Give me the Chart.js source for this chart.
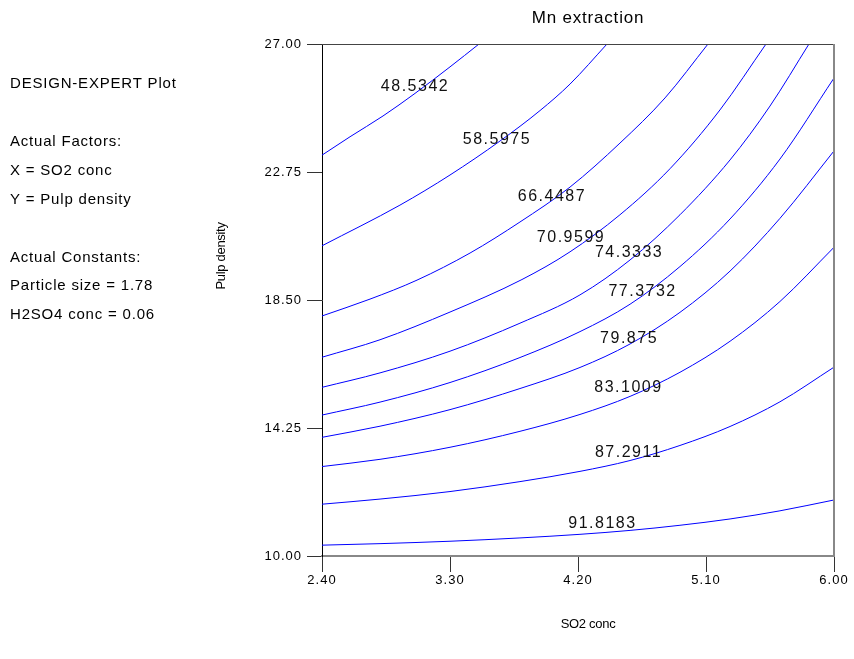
<!DOCTYPE html>
<html>
<head>
<meta charset="utf-8">
<script src="https://cdn.jsdelivr.net/npm/chart.js@4.4.1/dist/chart.umd.min.js"></script>
<style>
  html, body { margin: 0; padding: 0; background: #fff; }
  canvas { display: block; }
</style>
</head>
<body>
<canvas id="c" width="854" height="659" style="width:854px;height:659px"></canvas>
<script>
// ---- data ----
const xTicks = [2.40, 3.30, 4.20, 5.10, 6.00];
const yTicks = [10.00, 14.25, 18.50, 22.75, 27.00];
const contourLevels = ["48.5342", "58.5975", "66.4487", "70.9599", "74.3333", "77.3732", "79.875", "83.1009", "87.2911", "91.8183"];

// contour curves: [SO2 conc, Pulp density]
const c48 = [[2.400,23.31],[2.597,23.92],[2.829,24.61],[3.054,25.36],[3.300,26.24],[3.504,27.00]];
const c58 = [[2.400,20.30],[2.948,21.65],[3.300,22.65],[3.652,23.78],[3.933,24.79],[4.144,25.67],[4.404,27.00]];
const c66 = [[2.400,17.97],[2.7375,18.53],[3.068,19.16],[3.441,20.06],[3.792,21.09],[4.144,22.25],[4.495,23.71],[4.812,25.21],[5.114,27.00]];
const c71 = [[2.400,16.60],[2.808,17.18],[3.300,18.10],[3.806,19.18],[4.144,20.10],[4.495,21.33],[4.847,22.86],[5.198,24.81],[5.522,27.00]];
const c74 = [[2.400,15.60],[2.808,16.08],[3.300,16.80],[3.792,17.73],[4.214,18.67],[4.566,19.83],[4.917,21.33],[5.269,23.15],[5.550,24.94],[5.824,27.00]];
const c77 = [[2.400,14.68],[2.808,15.11],[3.300,15.76],[3.792,16.59],[4.214,17.45],[4.566,18.36],[4.917,19.61],[5.269,21.19],[5.620,23.18],[6.000,25.87]];
const c80 = [[2.400,13.94],[2.808,14.31],[3.300,14.86],[3.792,15.56],[4.214,16.26],[4.566,17.04],[4.917,18.09],[5.269,19.46],[5.620,21.21],[6.000,23.45]];
const c83 = [[2.400,12.97],[2.808,13.21],[3.300,13.61],[3.792,14.14],[4.214,14.70],[4.566,15.30],[4.917,16.10],[5.269,17.13],[5.620,18.45],[6.000,20.25]];
const c87 = [[2.400,11.72],[2.808,11.89],[3.300,12.14],[3.792,12.47],[4.214,12.81],[4.566,13.17],[4.917,13.67],[5.269,14.30],[5.620,15.12],[6.000,16.27]];
const c92 = [[2.400,10.36],[2.808,10.41],[3.300,10.49],[3.792,10.60],[4.214,10.72],[4.566,10.85],[4.917,11.02],[5.269,11.23],[5.620,11.50],[6.000,11.86]];

// label anchor positions (data units)
const labelX = [3.054, 3.630, 4.017, 4.151, 4.559, 4.654, 4.559, 4.555, 4.555, 4.372];
const labelY = [25.57, 23.81, 21.92, 20.56, 20.09, 18.77, 17.21, 15.58, 13.42, 11.06];

const sideText = ["DESIGN-EXPERT Plot", "", "Actual Factors:", "X = SO2 conc", "Y = Pulp density", "", "Actual Constants:", "Particle size = 1.78", "H2SO4 conc = 0.06"];

const curves = [c48, c58, c66, c71, c74, c77, c80, c83, c87, c92];

const FONT = "'Liberation Sans', Arial, sans-serif";

const textPlugin = {
  id: 'texts',
  beforeDraw(chart) {
    chart.ctx.letterSpacing = '1px';
  },
  afterDraw(chart) {
    const ctx = chart.ctx;
    const a = chart.chartArea;
    const xs = chart.scales.x, ys = chart.scales.y;
    ctx.save();
    // top and right frame
    ctx.strokeStyle = '#444';
    ctx.lineWidth = 1;
    ctx.beginPath();
    ctx.moveTo(a.left, a.top + 0.5);
    ctx.lineTo(a.right, a.top + 0.5);
    ctx.stroke();
    ctx.strokeStyle = '#888';
    ctx.lineWidth = 2;
    ctx.beginPath();
    ctx.moveTo(a.right, a.top);
    ctx.lineTo(a.right, a.bottom);
    ctx.stroke();

    // contour labels
    ctx.fillStyle = '#111';
    ctx.font = '16px ' + FONT;
    ctx.letterSpacing = '1.5px';
    ctx.textAlign = 'center';
    ctx.textBaseline = 'middle';
    contourLevels.forEach((t, i) => {
      ctx.fillText(t, xs.getPixelForValue(labelX[i]), ys.getPixelForValue(labelY[i]));
    });

    // title
    ctx.font = '17px ' + FONT;
    ctx.letterSpacing = '0.8px';
    ctx.fillStyle = '#000';
    ctx.fillText('Mn extraction', (a.left + a.right) / 2 + 10, 18);

    // axis titles
    ctx.font = '13px ' + FONT;
    ctx.letterSpacing = '-0.3px';
    ctx.fillText('SO2 conc', (a.left + a.right) / 2 + 10, 624);
    ctx.save();
    ctx.translate(221, 256);
    ctx.rotate(-Math.PI / 2);
    ctx.fillText('Pulp density', 0, 0);
    ctx.restore();

    // side annotations
    ctx.font = '15px ' + FONT;
    ctx.letterSpacing = '0.8px';
    ctx.textAlign = 'left';
    sideText.forEach((t, i) => {
      if (t) ctx.fillText(t, 10, 84 + i * 28.9);
    });
    ctx.restore();
  }
};

new Chart(document.getElementById('c'), {
  type: 'scatter',
  data: {
    datasets: curves.map((c, i) => ({
      label: contourLevels[i],
      data: c.map(p => ({ x: p[0], y: p[1] })),
      showLine: true,
      borderColor: '#0000ff',
      borderWidth: 1,
      pointRadius: 0,
      cubicInterpolationMode: 'monotone',
      fill: false
    }))
  },
  options: {
    responsive: false,
    animation: false,
    events: [],
    layout: { padding: { top: 44, right: 20, left: 0, bottom: 0 } },
    plugins: { legend: { display: false }, tooltip: { enabled: false }, title: { display: false } },
    scales: {
      x: {
        type: 'linear',
        min: 2.4,
        max: 6.0,
        afterBuildTicks: s => { s.ticks = xTicks.map(v => ({ value: v })); },
        afterFit: s => { s.height = 103; },
        grid: { drawOnChartArea: false, drawTicks: true, tickLength: 16, color: '#333', lineWidth: 1 },
        border: { display: true, color: '#888', width: 2 },
        ticks: {
          autoSkip: false, maxRotation: 0, padding: 1, color: '#000',
          font: { family: FONT, size: 13 },
          callback: v => Number(v).toFixed(2)
        }
      },
      y: {
        type: 'linear',
        min: 10,
        max: 27,
        afterBuildTicks: s => { s.ticks = yTicks.map(v => ({ value: v })); },
        afterFit: s => { s.width = 322; },
        grid: { drawOnChartArea: false, drawTicks: true, tickLength: 15, color: '#333', lineWidth: 1 },
        border: { display: true, color: '#000', width: 1 },
        ticks: {
          autoSkip: false, padding: 5, color: '#000',
          font: { family: FONT, size: 13 },
          callback: v => Number(v).toFixed(2)
        }
      }
    }
  },
  plugins: [textPlugin]
});
</script>
</body>
</html>
